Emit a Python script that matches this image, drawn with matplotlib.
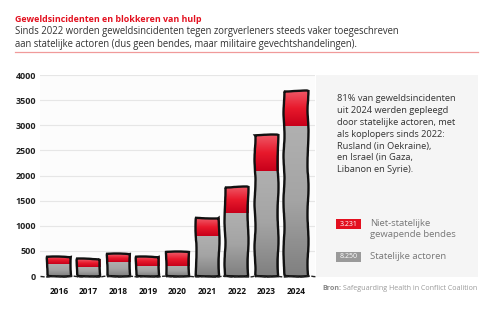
import numpy as np
import matplotlib
matplotlib.use("Agg")
import matplotlib.pyplot as plt
from matplotlib.patches import Rectangle
from matplotlib.colors import LinearSegmentedColormap

years = ["2016", "2017", "2018", "2019", "2020", "2021", "2022", "2023", "2024"]
state_actors = [240, 185, 285, 190, 200, 800, 1260, 2090, 2980]
non_state_groups = [145, 145, 150, 195, 270, 350, 520, 720, 710]
yticks = [0, 500, 1000, 1500, 2000, 2500, 3000, 3500, 4000]

total_non_state = "3.231"
total_state = "8.250"

title = "Geweldsincidenten en blokkeren van hulp"
subtitle = ("Sinds 2022 worden geweldsincidenten tegen zorgverleners steeds vaker toegeschreven\n"
            "aan statelijke actoren (dus geen bendes, maar militaire gevechtshandelingen).")
note_lines = ["81% van geweldsincidenten", "uit 2024 werden gepleegd",
              "door statelijke actoren, met", "als koplopers sinds 2022:",
              "Rusland (in Oekraine),", "en Israel (in Gaza,", "Libanon en Syrie)."]

RED = "#e3101f"
GREY = "#9a9a9a"
FONT = "Open Sans"

plt.rcParams["font.family"] = [FONT, "DejaVu Sans"]

W, H = 499, 322
fig = plt.figure(figsize=(W / 100, H / 100), dpi=100)
fig.patch.set_facecolor("white")


def fx(px):
    return px / W


def fy(py):
    return 1 - py / H


# header
fig.text(fx(15), fy(20), title, color=RED, fontsize=6.4, fontweight="bold", va="center")
fig.text(fx(15), fy(38), subtitle, color="#333333", fontsize=6.85, va="center", linespacing=1.25)
fig.add_artist(plt.Line2D([fx(15), fx(478)], [fy(52), fy(52)], color="#f09a9a", lw=0.9))

# side panel background
fig.add_artist(Rectangle((fx(316), fy(277)), fx(478) - fx(316), fy(75) - fy(277),
                         facecolor="#f5f5f5", edgecolor="none", zorder=0))

ax = fig.add_axes([fx(40), fy(276), fx(315) - fx(40), fy(75) - fy(276)])
ax.set_facecolor("#fcfcfc")
x = np.arange(len(years))
width = 0.78

red_cmap = LinearSegmentedColormap.from_list("r", ["#c8001a", "#e8192c", "#ef5a68"])
grey_cmap = LinearSegmentedColormap.from_list("g", ["#808080", "#a4a4a4", "#b0b0b0"])
grad = np.linspace(0, 1, 64).reshape(-1, 1)

bottom_bars = ax.bar(x, state_actors, width, color=GREY, edgecolor="none", zorder=2)
top_bars = ax.bar(x, non_state_groups, width, bottom=state_actors, color=RED,
                  edgecolor="none", zorder=2)

for bars, cmap in [(bottom_bars, grey_cmap), (top_bars, red_cmap)]:
    for b in bars:
        x0, y0 = b.get_x(), b.get_y()
        img = ax.imshow(grad, cmap=cmap, origin="lower", aspect="auto",
                        extent=[x0, x0 + b.get_width(), y0, y0 + b.get_height()], zorder=3)
        img.set_clip_path(b)

# hand-drawn outline around each stacked bar
totals = [s + n for s, n in zip(state_actors, non_state_groups)]
outlines = ax.bar(x, totals, width, fill=False, edgecolor="#111111", linewidth=1.7,
                  zorder=4, clip_on=False, joinstyle="miter")
for o in outlines:
    o.set_sketch_params(0.5, 60, 3)

base = ax.axhline(0, color="#222222", lw=1.0, ls=(0, (3, 1)), zorder=5, clip_on=False)
base.set_sketch_params(0.4, 20, 2)

ax.set_xlim(-0.64, 8.64)
ax.set_ylim(0, 4000)
ax.set_yticks(yticks)
ax.set_yticklabels([str(t) for t in yticks], fontsize=6.4, fontweight="bold", color="#222222")
ax.set_xticks(x)
ax.set_xticklabels(years, fontsize=6.0, fontweight="bold", color="#111111")
ax.tick_params(length=0, pad=3)
ax.tick_params(axis="x", pad=8)
ax.grid(axis="y", color="#e6e6e6", lw=0.8, zorder=0)
ax.set_axisbelow(True)
for s in ax.spines.values():
    s.set_visible(False)

# side note
for i, line in enumerate(note_lines):
    fig.text(fx(337), fy(98.5 + i * 11.9), line, color="#333333", fontsize=6.7, va="center")

# legend
fig.add_artist(Rectangle((fx(336), fy(229)), fx(361) - fx(336), fy(219) - fy(229),
                         facecolor=RED, edgecolor="none"))
fig.text(fx(348.5), fy(224), total_non_state, color="white", fontsize=5.0, ha="center", va="center")
fig.text(fx(370), fy(223), "Niet-statelijke", color="#777777", fontsize=6.8, va="center")
fig.text(fx(370), fy(234.5), "gewapende bendes", color="#777777", fontsize=6.8, va="center")

fig.add_artist(Rectangle((fx(336), fy(262)), fx(361) - fx(336), fy(252) - fy(262),
                         facecolor=GREY, edgecolor="none"))
fig.text(fx(348.5), fy(257), total_state, color="white", fontsize=5.0, ha="center", va="center")
fig.text(fx(370), fy(256.5), "Statelijke actoren", color="#777777", fontsize=6.8, va="center")

# source line: bold label followed by the name
src = fig.text(fx(322), fy(289), "Bron:", color="#888888", fontsize=5.1, fontweight="bold", va="center")
fig.canvas.draw()
ext = src.get_window_extent()
fig.text(ext.x1 / W + fx(2), fy(289), "Safeguarding Health in Conflict Coalition", color="#999999",
         fontsize=5.1, va="center")

fig.savefig("out.png", dpi=100)
